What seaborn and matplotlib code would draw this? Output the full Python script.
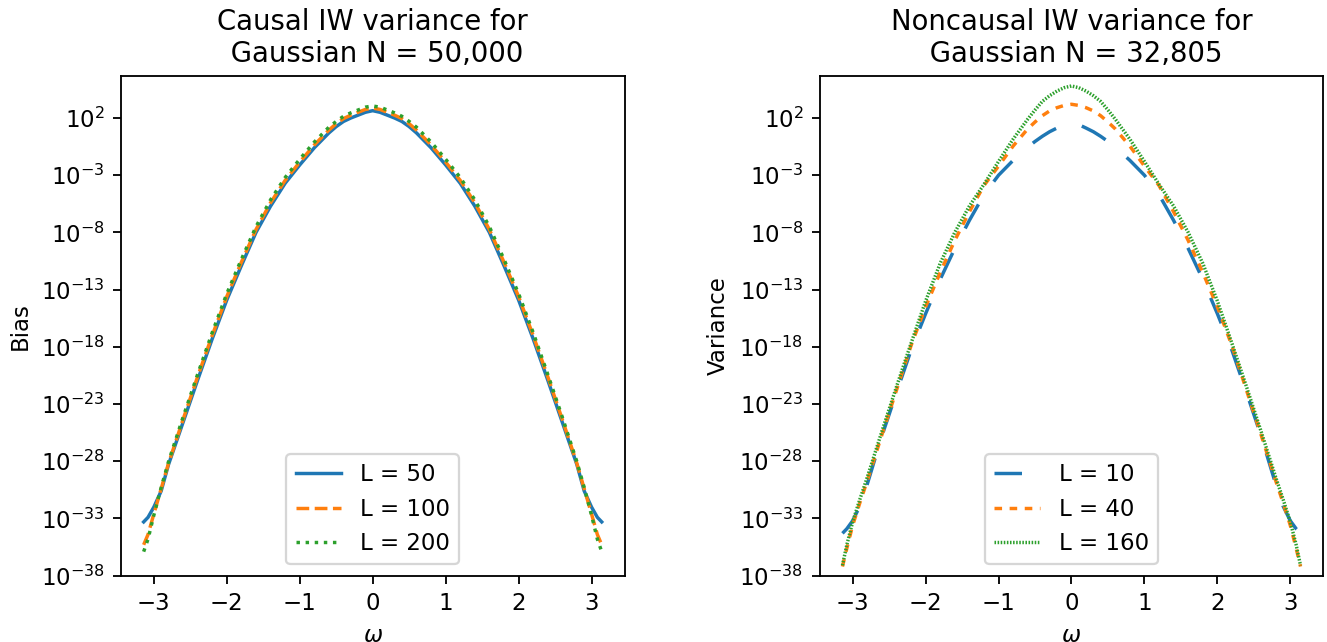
import matplotlib
matplotlib.use("Agg")
import matplotlib.pyplot as plt
import numpy as np
import pandas as pd
import seaborn as sns
from matplotlib.ticker import NullLocator

# ---- data (log10 of values) ----
omega = [-3.14, -3.08, -3.0, -2.9, -2.8, -2.6, -2.4, -2.2, -2.0, -1.8, -1.6, -1.4,
         -1.2, -1.0, -0.8, -0.6, -0.5, -0.4, -0.3, -0.2, -0.1, 0.0, 0.1, 0.2, 0.3,
         0.4, 0.5, 0.6, 0.8, 1.0, 1.2, 1.4, 1.6, 1.8, 2.0, 2.2, 2.4, 2.6, 2.8, 2.9,
         3.0, 3.08, 3.14]

causal_L50 = [-33.3, -32.9, -32.0, -30.6, -28.3, -24.6, -20.9, -17.3, -13.9, -10.9, -8.0, -5.7,
              -3.7, -2.1, -0.6, 0.7, 1.25, 1.7, 2.0, 2.25, 2.5, 2.64, 2.5, 2.25, 2.0,
              1.7, 1.25, 0.7, -0.6, -2.1, -3.7, -5.7, -8.0, -10.9, -13.9, -17.3, -20.9,
              -24.6, -28.3, -30.6, -32.0, -32.9, -33.3]
causal_L100 = [-35.3, -34.4, -32.6, -30.4, -28.2, -24.35, -20.6, -17.0, -13.6, -10.6, -7.75, -5.4,
               -3.45, -1.85, -0.35, 0.95, 1.5, 1.95, 2.25, 2.5, 2.75, 2.87, 2.75, 2.5, 2.25,
               1.95, 1.5, 0.95, -0.35, -1.85, -3.45, -5.4, -7.75, -10.6, -13.6, -17.0, -20.6,
               -24.35, -28.2, -30.4, -32.6, -34.4, -35.3]
causal_L200 = [-35.9, -34.8, -32.7, -30.3, -28.05, -24.15, -20.4, -16.75, -13.35, -10.35, -7.5, -5.15,
               -3.2, -1.6, -0.1, 1.2, 1.7, 2.15, 2.45, 2.7, 2.95, 3.05, 2.95, 2.7, 2.45,
               2.15, 1.7, 1.2, -0.1, -1.6, -3.2, -5.15, -7.5, -10.35, -13.35, -16.75, -20.4,
               -24.15, -28.05, -30.3, -32.7, -34.8, -35.9]

noncausal_L10 = [-34.3, -33.9, -33.2, -31.9, -30.0, -25.8, -22.0, -18.3, -15.1, -12.1, -9.4, -6.95,
                 -4.7, -3.0, -1.7, -0.55, -0.05, 0.4, 0.8, 1.12, 1.42, 1.6, 1.42, 1.12, 0.8,
                 0.4, -0.05, -0.55, -1.7, -3.0, -4.7, -6.95, -9.4, -12.1, -15.1, -18.3, -22.0,
                 -25.8, -30.0, -31.9, -33.2, -33.9, -34.3]
noncausal_L40 = [-37.2, -35.6, -33.6, -31.6, -29.7, -25.7, -21.8, -17.9, -14.5, -11.5, -8.7, -6.2,
                 -3.9, -2.2, -0.45, 1.05, 1.65, 2.2, 2.62, 2.9, 3.1, 3.2, 3.1, 2.9, 2.62,
                 2.2, 1.65, 1.05, -0.45, -2.2, -3.9, -6.2, -8.7, -11.5, -14.5, -17.9, -21.8,
                 -25.7, -29.7, -31.6, -33.6, -35.6, -37.2]
noncausal_L160 = [-37.1, -35.3, -33.3, -31.3, -29.4, -25.4, -21.5, -17.7, -14.0, -10.7, -8.0, -5.7,
                  -3.8, -1.8, 0.15, 1.9, 2.7, 3.45, 3.95, 4.35, 4.65, 4.8, 4.65, 4.35, 3.95,
                  3.45, 2.7, 1.9, 0.15, -1.8, -3.8, -5.7, -8.0, -10.7, -14.0, -17.7, -21.5,
                  -25.4, -29.4, -31.3, -33.3, -35.3, -37.1]

causal_labels = ["L = 50", "L = 100", "L = 200"]
noncausal_labels = ["L = 10", "L = 40", "L = 160"]
ytick_exponents = [-38, -33, -28, -23, -18, -13, -8, -3, 2]

colors = ["#1f77b4", "#ff7f0e", "#2ca02c"]
causal_styles = ["-", (0, (3.7, 1.6)), (0, (1, 1.65))]
noncausal_styles = [(0, (8, 8)), (0, (2.2, 2.2)), (0, (0.45, 0.45))]

DPI = 165
fig = plt.figure(figsize=(1327 / DPI, 642 / DPI), dpi=DPI)
ax1 = fig.add_axes([0.0910, 0.1033, 0.3797, 0.7783])
ax2 = fig.add_axes([0.6176, 0.1033, 0.3797, 0.7783])


def draw(ax, series, labels, styles):
    for vals, lab, col, ls in zip(series, labels, colors, styles):
        df = pd.DataFrame({"omega": omega, "value": 10.0 ** np.array(vals)})
        sns.lineplot(data=df, x="omega", y="value", ax=ax, color=col,
                     linestyle=ls, linewidth=1.5, label=lab, sort=False)
    ax.set_yscale("log")
    ax.set_ylim(1e-38, 10 ** 5.67)
    ax.set_yticks([10.0 ** e for e in ytick_exponents])
    ax.yaxis.set_minor_locator(NullLocator())
    ax.set_xlabel(r"$\omega$")
    ax.legend(loc="lower center")


draw(ax1, [causal_L50, causal_L100, causal_L200], causal_labels, causal_styles)
draw(ax2, [noncausal_L10, noncausal_L40, noncausal_L160], noncausal_labels, noncausal_styles)

ax1.set_ylabel("Bias")
ax2.set_ylabel("Variance")
ax1.set_title("Causal IW variance for\n Gaussian N = 50,000", fontsize=12)
ax2.set_title("Noncausal IW variance for\n Gaussian N = 32,805", fontsize=12)

fig.savefig("out.png", dpi=DPI)
